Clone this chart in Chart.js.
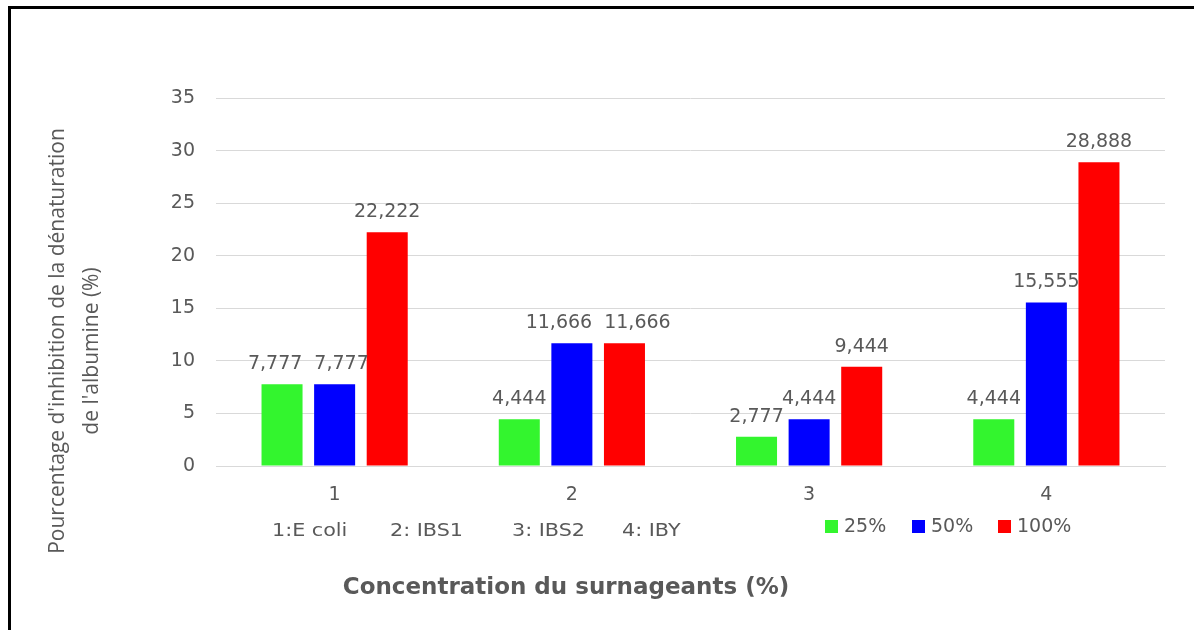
<!DOCTYPE html>
<html>
<head>
<meta charset="utf-8">
<script src="https://cdn.jsdelivr.net/npm/chart.js@4.4.1/dist/chart.umd.min.js"></script>
<style>
  html, body { margin: 0; padding: 0; background: #fff; }
  #wrap { position: relative; width: 1194px; height: 630px; }
</style>
</head>
<body>
<div id="wrap"><canvas id="chart" width="1194" height="630"></canvas></div>
<script>
const categories = ['1', '2', '3', '4'];
const seriesNames = ['25%', '50%', '100%'];
const values25 = [7.777, 4.444, 2.777, 4.444];
const values50 = [7.777, 11.666, 4.444, 15.555];
const values100 = [22.222, 11.666, 9.444, 28.888];
const seriesColors = ['#33f52e', '#0000ff', '#ff0000'];
const yTicks = [0, 5, 10, 15, 20, 25, 30, 35];
const noteLabels = ['1:E coli', '2: IBS1', '3: IBS2', '4: IBY'];
const yTitle = ["Pourcentage d'inhibition de la dénaturation", "de l'albumine (%)"];
const xTitle = 'Concentration du surnageants (%)';

const textGray = '#595959';
const font = 'DejaVu Sans';

function fmt(v) { return v.toFixed(3).replace('.', ','); }

// data labels above bars, pushed apart when two of them collide
const barLabels = {
    id: 'barLabels',
    afterDatasetsDraw(chart) {
        const ctx = chart.ctx;
        ctx.save();
        ctx.font = `19px "${font}"`;
        ctx.fillStyle = textGray;
        ctx.textAlign = 'center';
        ctx.textBaseline = 'middle';
        const n = chart.data.datasets.length;
        chart.data.labels.forEach((_, j) => {
            const items = [];
            for (let i = 0; i < n; i++) {
                const bar = chart.getDatasetMeta(i).data[j];
                const text = fmt(chart.data.datasets[i].data[j]);
                items.push({ text, x: bar.x, y: bar.y - 20, w: ctx.measureText(text).width });
            }
            for (let k = 0; k < items.length - 1; k++) {
                const a = items[k], b = items[k + 1];
                if (Math.abs(a.y - b.y) > 16) continue;
                const need = (a.w + b.w) / 2 + 12 - (b.x - a.x);
                if (need > 0) { a.x -= need / 2; b.x += need / 2; }
            }
            items.forEach(it => ctx.fillText(it.text, it.x, it.y));
        });
        ctx.restore();
    }
};

// frame, axis titles, notes and legend
const extras = {
    id: 'extras',
    afterDraw(chart) {
        const ctx = chart.ctx;
        ctx.save();
        // frame (left and top only)
        ctx.fillStyle = '#000';
        ctx.fillRect(8, 6, 3, 624);
        ctx.fillRect(8, 6, 1186, 3);

        // y title, two lines rotated
        ctx.fillStyle = textGray;
        ctx.font = `21px "Open Sans"`;
        ctx.textAlign = 'center';
        ctx.textBaseline = 'middle';
        yTitle.forEach((line, i) => {
            ctx.save();
            ctx.translate(58 + i * 34, 341 + i * 10);
            ctx.rotate(-Math.PI / 2);
            ctx.fillText(line, 0, 0);
            ctx.restore();
        });

        // x title
        ctx.font = `bold 23px "${font}"`;
        ctx.fillText(xTitle, 566, 588);

        // notes row
        ctx.textAlign = 'left';
        ctx.font = `18px "${font}"`;
        const noteX = [272, 390, 512, 622];
        noteLabels.forEach((t, i) => {
            ctx.save();
            ctx.translate(noteX[i], 531);
            ctx.scale(1.15, 1);
            ctx.fillText(t, 0, 0);
            ctx.restore();
        });

        // legend
        ctx.font = `19px "${font}"`;
        const legX = [825, 912, 998];
        seriesNames.forEach((name, i) => {
            ctx.fillStyle = seriesColors[i];
            ctx.fillRect(legX[i], 520, 13, 13);
            ctx.fillStyle = textGray;
            ctx.fillText(name, legX[i] + 19, 527);
        });
        ctx.restore();
    }
};

new Chart(document.getElementById('chart'), {
    type: 'bar',
    data: {
        labels: categories,
        datasets: [values25, values50, values100].map((d, i) => ({
            label: seriesNames[i],
            data: d,
            backgroundColor: seriesColors[i],
            categoryPercentage: 0.665,
            barPercentage: 0.78
        }))
    },
    options: {
        responsive: false,
        animation: false,
        layout: { padding: { left: 0, right: 29, top: 98, bottom: 0 } },
        plugins: { legend: { display: false }, tooltip: { enabled: false } },
        scales: {
            x: {
                afterFit(s) { s.height = 164; },
                grid: { display: false, drawTicks: false },
                border: { color: '#d9d9d9', width: 1 },
                ticks: { color: textGray, font: { family: font, size: 19 }, padding: 18 }
            },
            y: {
                min: 0, max: 35,
                afterFit(s) { s.width = 216; },
                afterBuildTicks(s) { s.ticks = yTicks.map(v => ({ value: v })); },
                grid: { color: '#d9d9d9', drawTicks: false },
                border: { display: false },
                ticks: { color: textGray, font: { family: font, size: 19 }, padding: 21 }
            }
        }
    },
    plugins: [barLabels, extras]
});
</script>
</body>
</html>
